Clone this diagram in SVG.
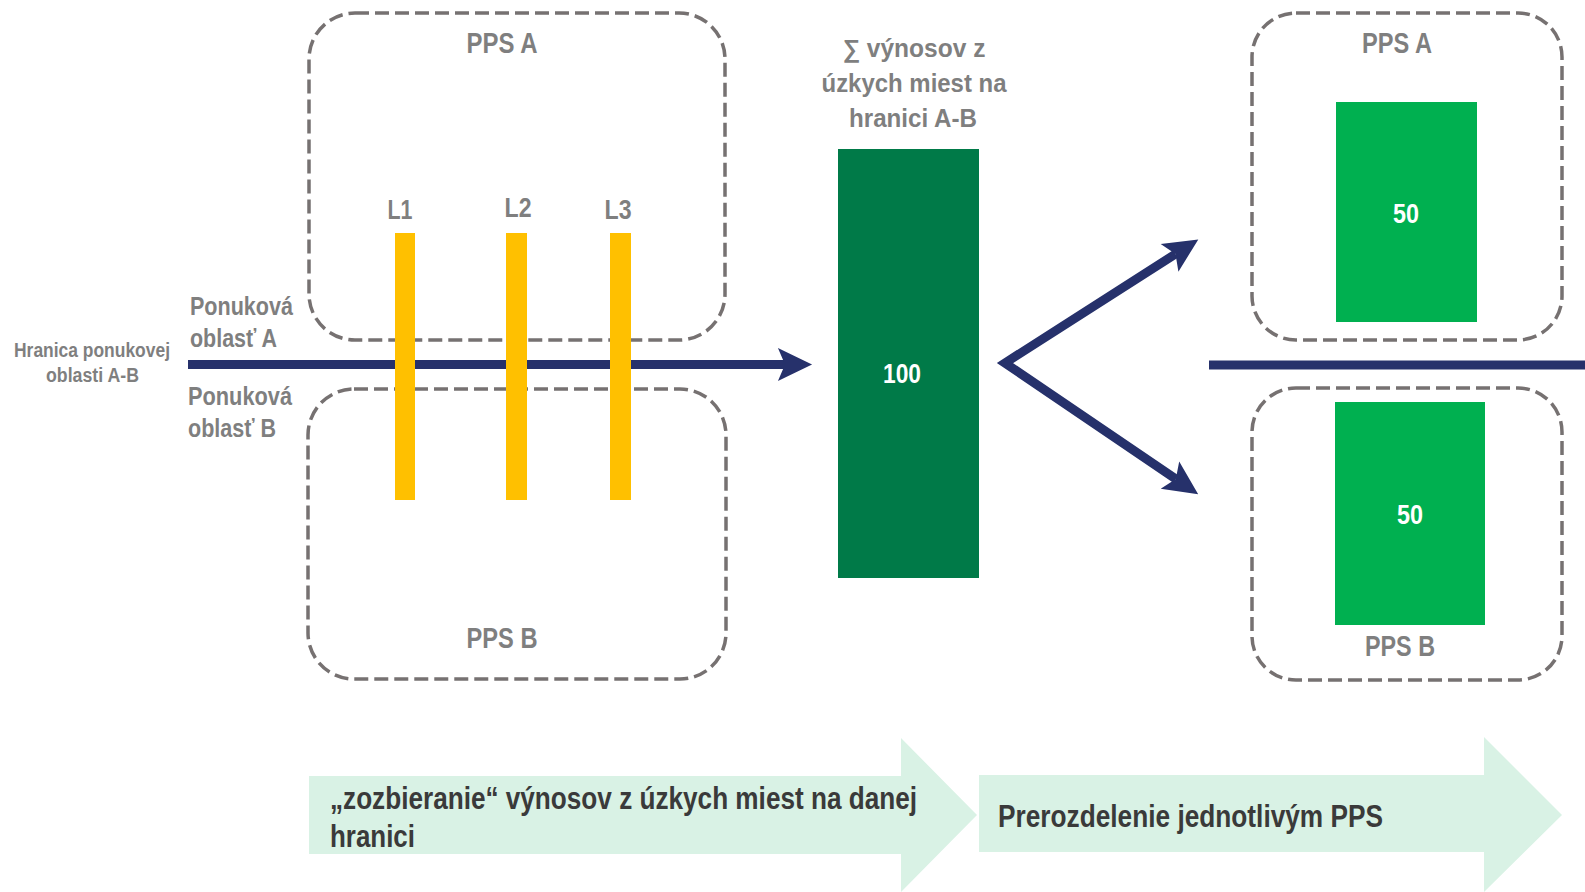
<svg xmlns="http://www.w3.org/2000/svg" width="1585" height="892" viewBox="0 0 1585 892">
<defs>
<style>
text{font-family:"Liberation Sans Narrow","Liberation Sans",Arial,sans-serif;font-weight:bold}
.g{fill:#7f7f7f}
.w{fill:#ffffff}
.d{fill:#3a3a3a}
.box{fill:none;stroke:#767171;stroke-width:3.5;stroke-dasharray:14 6}
.bar{fill:#ffc000}
.nav{fill:none;stroke:#26316b;stroke-width:9}
.band{fill:#d9f2e5}
</style>
<marker id="ah" markerUnits="userSpaceOnUse" markerWidth="40" markerHeight="40" viewBox="-2 -16 34 32" refX="6" refY="0" orient="auto-start-reverse">
<path d="M0,-14 L29,0 L0,14 L6,0 Z" fill="#26316b"/>
</marker>
</defs>

<g id="band-collect">
<path class="band" d="M309,776 H901 V738 L977,815 L901,892 V854 H309 Z"/>
<text class="d" x="330" y="809" font-size="31" textLength="587" lengthAdjust="spacingAndGlyphs">„zozbieranie“ výnosov z úzkych miest na danej</text>
<text class="d" x="330" y="847" font-size="31" textLength="85" lengthAdjust="spacingAndGlyphs">hranici</text>
</g>
<g id="band-redistribute">
<path class="band" d="M979,775 H1484 V737 L1562,815 L1484,892 V852 H979 Z"/>
<text class="d" x="998" y="827" font-size="31" textLength="385" lengthAdjust="spacingAndGlyphs">Prerozdelenie jednotlivým PPS</text>
</g>

<g id="label-border">
<text class="g" x="92" y="357" font-size="20" text-anchor="middle" textLength="156" lengthAdjust="spacingAndGlyphs">Hranica ponukovej</text>
<text class="g" x="92.5" y="382" font-size="20" text-anchor="middle" textLength="93" lengthAdjust="spacingAndGlyphs">oblasti A-B</text>
</g>
<g id="label-zoneA">
<text class="g" x="190" y="315" font-size="25" textLength="103" lengthAdjust="spacingAndGlyphs">Ponuková</text>
<text class="g" x="190" y="347" font-size="25" textLength="87" lengthAdjust="spacingAndGlyphs">oblasť A</text>
</g>
<g id="label-zoneB">
<text class="g" x="188" y="405" font-size="25" textLength="104" lengthAdjust="spacingAndGlyphs">Ponuková</text>
<text class="g" x="188" y="437" font-size="25" textLength="88" lengthAdjust="spacingAndGlyphs">oblasť B</text>
</g>

<g id="pps-a-left">
<rect class="box" x="309" y="13" width="416" height="327" rx="46"/>
<text class="g" x="502" y="53" font-size="29" text-anchor="middle" textLength="71" lengthAdjust="spacingAndGlyphs">PPS A</text>
</g>
<g id="pps-b-left">
<rect class="box" x="308" y="389" width="418" height="290" rx="46"/>
<text class="g" x="502" y="648" font-size="29" text-anchor="middle" textLength="71" lengthAdjust="spacingAndGlyphs">PPS B</text>
</g>

<g id="connectors">
<line class="nav" x1="188" y1="364.5" x2="785" y2="364.5" marker-end="url(#ah)"/>
<path class="nav" d="M1175.5,254 L1005,363 L1175.8,479" stroke-linejoin="miter" marker-start="url(#ah)" marker-end="url(#ah)"/>
<line class="nav" x1="1209" y1="365" x2="1585" y2="365"/>
</g>

<g id="line-L1">
<rect class="bar" x="395" y="233" width="20" height="267"/>
<text class="g" x="400" y="219" font-size="27" text-anchor="middle" textLength="25" lengthAdjust="spacingAndGlyphs">L1</text>
</g>
<g id="line-L2">
<rect class="bar" x="506" y="233" width="21" height="267"/>
<text class="g" x="518" y="217" font-size="27" text-anchor="middle" textLength="27" lengthAdjust="spacingAndGlyphs">L2</text>
</g>
<g id="line-L3">
<rect class="bar" x="610" y="233" width="21" height="267"/>
<text class="g" x="618" y="219" font-size="27" text-anchor="middle" textLength="27" lengthAdjust="spacingAndGlyphs">L3</text>
</g>

<g id="sum">
<text class="g" x="914" y="57" font-size="25" text-anchor="middle" textLength="143" lengthAdjust="spacingAndGlyphs">∑ výnosov z</text>
<text class="g" x="914" y="92" font-size="25" text-anchor="middle" textLength="185" lengthAdjust="spacingAndGlyphs">úzkych miest na</text>
<text class="g" x="913" y="127" font-size="25" text-anchor="middle" textLength="128" lengthAdjust="spacingAndGlyphs">hranici A-B</text>
<rect x="838" y="149" width="141" height="429" fill="#007a48"/>
<text class="w" x="902" y="383" font-size="28" text-anchor="middle" textLength="38" lengthAdjust="spacingAndGlyphs">100</text>
</g>

<g id="pps-a-right">
<rect class="box" x="1252" y="13" width="310" height="327" rx="44"/>
<text class="g" x="1397" y="53" font-size="29" text-anchor="middle" textLength="70" lengthAdjust="spacingAndGlyphs">PPS A</text>
<rect x="1336" y="102" width="141" height="220" fill="#00b050"/>
<text class="w" x="1406" y="223" font-size="28" text-anchor="middle" textLength="26" lengthAdjust="spacingAndGlyphs">50</text>
</g>
<g id="pps-b-right">
<rect class="box" x="1252" y="388" width="310" height="292" rx="44"/>
<rect x="1335" y="402" width="150" height="223" fill="#00b050"/>
<text class="w" x="1410" y="524" font-size="28" text-anchor="middle" textLength="26" lengthAdjust="spacingAndGlyphs">50</text>
<text class="g" x="1400" y="656" font-size="29" text-anchor="middle" textLength="70" lengthAdjust="spacingAndGlyphs">PPS B</text>
</g>
</svg>
